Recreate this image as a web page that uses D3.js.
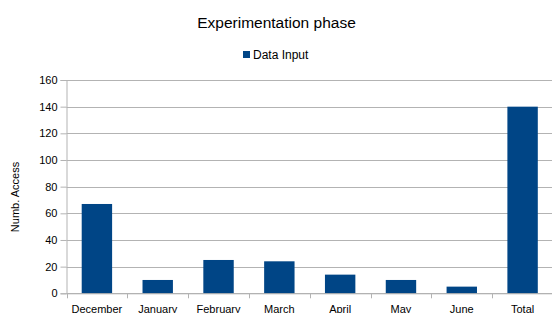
<!DOCTYPE html>
<html><head><meta charset="utf-8">
<script src="https://cdn.jsdelivr.net/npm/d3@7"></script>
<style>body{margin:0;background:#fff}svg{display:block}text{font-family:"Liberation Sans",Arial,sans-serif}</style>
</head><body>
<svg id="c" width="552" height="313"></svg>
<script>
const categories = ["December","January","February","March","April","May","June","Total"];
const values = [67, 10, 25, 24, 14, 10, 5, 140];
const yTicks = [0,20,40,60,80,100,120,140,160];
const seriesName = "Data Input";
const title = "Experimentation phase";
const yTitle = "Numb. Access";

const svg = d3.select("#c");
const m = {l:66.5, r:553, t:80, b:293.3};
const x = d3.scaleBand().domain(categories).range([m.l, m.r]).paddingInner(0.5).paddingOuter(0.25);
const y = d3.scaleLinear().domain([0,160]).range([m.b, m.t]);

// gridlines
svg.append("g").selectAll("line").data(yTicks).join("line")
  .attr("x1", m.l).attr("x2", m.r)
  .attr("y1", d=>Math.round(y(d))+0.5).attr("y2", d=>Math.round(y(d))+0.5)
  .attr("stroke", "#b3b3b3").attr("stroke-width", 1);

// y axis
const ya = svg.append("g").attr("transform", `translate(${m.l},0)`)
  .call(d3.axisLeft(y).tickValues(yTicks).tickSize(6).tickPadding(3));
ya.select(".domain").attr("stroke", "#b3b3b3");
ya.selectAll(".tick line").attr("stroke", "#b3b3b3");
ya.selectAll("text").attr("font-size", 11).attr("fill", "#000");

// bars
svg.append("g").selectAll("rect").data(values).join("rect")
  .attr("x", (d,i)=>x(categories[i])).attr("width", x.bandwidth())
  .attr("y", d=>y(d)).attr("height", d=>y(0)-y(d))
  .attr("fill", "#004586");

// x axis
const xa = svg.append("g").attr("transform", `translate(0,${m.b})`)
  .call(d3.axisBottom(x).tickSize(0).tickPadding(12));
xa.select(".domain").attr("stroke", "#b3b3b3");
xa.selectAll("text").attr("font-size", 11).attr("fill", "#000");
// category separators
const bounds = d3.range(categories.length+1).map(i => m.l + i*(m.r-m.l)/categories.length);
svg.append("g").selectAll("line").data(bounds).join("line")
  .attr("x1", d=>Math.round(d)+0.5).attr("x2", d=>Math.round(d)+0.5)
  .attr("y1", m.b).attr("y2", m.b+5)
  .attr("stroke", "#b3b3b3");

// title
svg.append("text").attr("x", 276.5).attr("y", 28).attr("text-anchor","middle")
  .attr("font-size", 15.5).attr("fill","#000").text(title);

// legend
svg.append("rect").attr("x", 243).attr("y", 51).attr("width", 7).attr("height", 7).attr("fill", "#004586");
svg.append("text").attr("x", 253).attr("y", 59).attr("font-size", 12).attr("fill","#000").text(seriesName);

// y title
svg.append("text").attr("transform", "translate(19,197) rotate(-90)").attr("text-anchor","middle")
  .attr("font-size", 11).attr("fill","#000").text(yTitle);
</script>
</body></html>
